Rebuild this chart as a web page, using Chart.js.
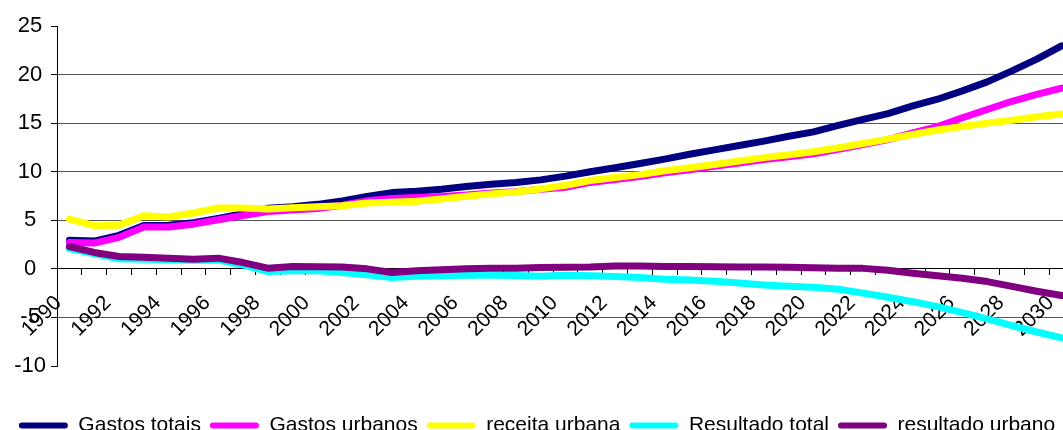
<!DOCTYPE html>
<html>
<head>
<meta charset="utf-8">
<script src="https://cdn.jsdelivr.net/npm/chart.js@4/dist/chart.umd.min.js"></script>
<style>
  html, body { margin: 0; padding: 0; overflow: hidden; background: #fff; }
  #wrap { position: absolute; left: 0; top: 0; width: 1080px; height: 446px; }
</style>
</head>
<body>
<div id="wrap"><canvas id="myChart"></canvas></div>
<script>
'use strict';

var years = [
  '1990', '1991', '1992', '1993', '1994', '1995', '1996', '1997', '1998', '1999',
  '2000', '2001', '2002', '2003', '2004', '2005', '2006', '2007', '2008', '2009',
  '2010', '2011', '2012', '2013', '2014', '2015', '2016', '2017', '2018', '2019',
  '2020', '2021', '2022', '2023', '2024', '2025', '2026', '2027', '2028', '2029',
  '2030'
];

var gastosTotais = [
  2.95, 2.86, 3.45, 4.47, 4.5, 4.75, 5.2, 5.68, 6.23, 6.4,
  6.64, 7.0, 7.45, 7.85, 7.99, 8.2, 8.47, 8.71, 8.88, 9.16,
  9.55, 10.0, 10.4, 10.85, 11.3, 11.8, 12.25, 12.7, 13.15, 13.65,
  14.1, 14.77, 15.39, 15.98, 16.77, 17.46, 18.32, 19.25, 20.38, 21.59,
  22.95
];

var gastosUrbanos = [
  2.72, 2.65, 3.24, 4.3, 4.3, 4.6, 5.06, 5.5, 5.9, 6.05,
  6.2, 6.55, 7.0, 7.25, 7.35, 7.45, 7.6, 7.8, 7.95, 8.2,
  8.4, 8.9, 9.2, 9.5, 9.9, 10.2, 10.55, 10.9, 11.25, 11.55,
  11.85, 12.3, 12.8, 13.3, 14.0, 14.65, 15.55, 16.4, 17.25, 17.95,
  18.6
];

var receitaUrbana = [
  5.13, 4.44, 4.5, 5.47, 5.34, 5.75, 6.27, 6.27, 6.15, 6.3,
  6.4, 6.5, 6.78, 6.85, 6.96, 7.2, 7.47, 7.72, 7.92, 8.23,
  8.6, 9.1, 9.4, 9.7, 10.1, 10.4, 10.75, 11.1, 11.45, 11.75,
  12.05, 12.47, 12.91, 13.35, 13.85, 14.3, 14.65, 15.0, 15.3, 15.65,
  15.95
];

var resultadoTotal = [
  2.1, 1.55, 1.03, 1.0, 0.95, 0.88, 0.9, 0.4, -0.28, -0.2,
  -0.2, -0.38, -0.62, -0.9, -0.76, -0.72, -0.65, -0.65, -0.68, -0.76,
  -0.65, -0.7, -0.79, -0.9, -1.07, -1.15, -1.27, -1.45, -1.65, -1.8,
  -1.9, -2.1, -2.5, -2.93, -3.38, -3.89, -4.5, -5.15, -5.85, -6.5,
  -7.1
];

var resultadoUrbano = [
  2.3, 1.69, 1.27, 1.2, 1.1, 1.0, 1.1, 0.65, 0.07, 0.24,
  0.22, 0.2, 0.0, -0.38, -0.2, -0.1, 0.0, 0.07, 0.07, 0.14,
  0.17, 0.2, 0.3, 0.3, 0.25, 0.24, 0.22, 0.2, 0.2, 0.17,
  0.12, 0.07, 0.05, -0.15, -0.45, -0.72, -0.96, -1.31, -1.8, -2.3,
  -2.75
];

var yTicks = [-10, -5, 0, 5, 10, 15, 20, 25];

Chart.defaults.font.family = '"Liberation Sans", Arial, sans-serif';
Chart.defaults.color = '#000';

function serie(label, data, color, order) {
  return {
    label: label,
    data: data,
    borderColor: color,
    backgroundColor: color,
    borderWidth: 7,
    borderCapStyle: 'round',
    borderJoinStyle: 'round',
    pointRadius: 0,
    pointHoverRadius: 0,
    tension: 0,
    fill: false,
    order: order
  };
}

var ctx = document.getElementById('myChart').getContext('2d');
var chart = new Chart(ctx, {
  type: 'line',
  data: {
    labels: years,
    datasets: [
      serie('Gastos totais', gastosTotais, '#000080', 5),
      serie('Gastos urbanos', gastosUrbanos, '#FF00FF', 4),
      serie('receita urbana', receitaUrbana, '#FFFF00', 3),
      serie('Resultado total', resultadoTotal, '#00FFFF', 2),
      serie('resultado urbano', resultadoUrbano, '#800080', 1)
    ]
  },
  options: {
    responsive: true,
    maintainAspectRatio: false,
    animation: false,
    layout: { padding: { top: 26, left: 0, right: 6, bottom: 0 } },
    plugins: {
      tooltip: { enabled: false },
      legend: {
        position: 'bottom',
        // empty title only pushes the legend row down below the plot
        title: { display: true, text: '', font: { size: 10, lineHeight: 1 }, padding: { top: 30, bottom: 0 } },
        labels: {
          boxWidth: 49,
          boxHeight: 6,
          padding: 9,
          useBorderRadius: true,
          borderRadius: 3,
          color: '#000',
          font: { size: 21 },
          sort: function (a, b) { return a.datasetIndex - b.datasetIndex; },
          generateLabels: function (c) {
            var items = Chart.defaults.plugins.legend.labels.generateLabels(c);
            items.forEach(function (it) { it.lineWidth = 0; });
            return items;
          }
        }
      }
    },
    scales: {
      x: {
        position: { y: 0 },
        offset: true,
        grid: {
          offset: true,
          drawOnChartArea: false,
          drawTicks: true,
          tickLength: 6,
          tickColor: '#000'
        },
        border: { color: '#000', width: 1 },
        ticks: {
          autoSkip: false,
          minRotation: 45,
          maxRotation: 45,
          padding: 16,
          labelOffset: -11,
          color: '#000',
          font: { size: 21 },
          callback: function (value, index) {
            return index % 2 === 0 ? years[index] : '';
          }
        },
        afterFit: function (s) { s.paddingLeft = 0; s.paddingRight = 0; }
      },
      y: {
        min: yTicks[0],
        max: yTicks[yTicks.length - 1],
        afterBuildTicks: function (s) {
          s.ticks = yTicks.map(function (v) { return { value: v }; });
        },
        afterFit: function (s) { s.width = 57; },
        grid: {
          color: function (c) {
            var v = c.tick && c.tick.value;
            return (v === 25 || v === -10) ? 'rgba(0,0,0,0)' : '#555';
          },
          tickColor: '#000',
          tickLength: 6
        },
        border: { color: '#000', width: 1 },
        ticks: {
          padding: 5,
          crossAlign: 'center',
          color: '#000',
          font: { size: 22 }
        }
      }
    }
  }
});
</script>
</body>
</html>
